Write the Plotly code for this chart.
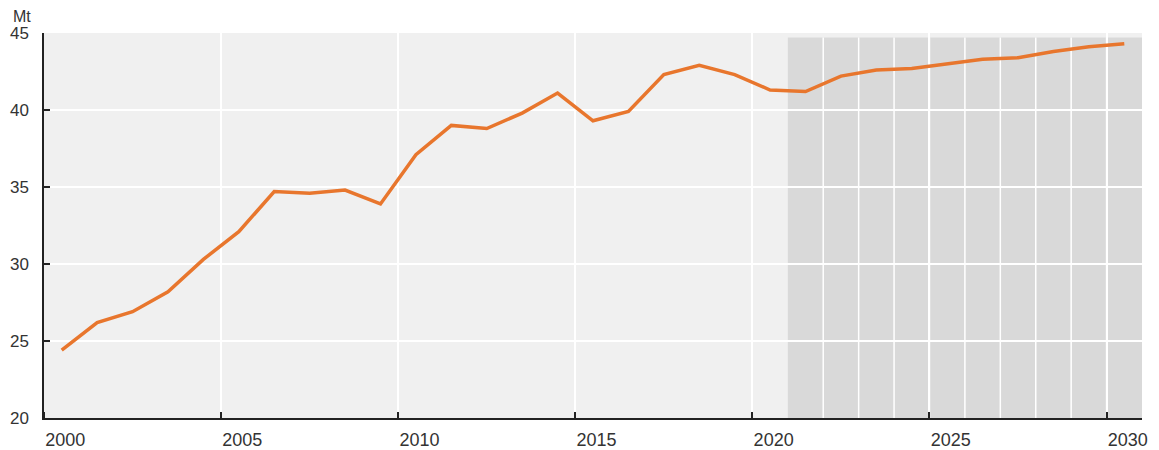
import plotly.graph_objects as go

years = list(range(2000, 2031))
values = [24.4, 26.2, 26.9, 28.2, 30.3, 32.1, 34.7, 34.6, 34.8, 33.9,
          37.1, 39.0, 38.8, 39.8, 41.1, 39.3, 39.9, 42.3, 42.9, 42.3,
          41.3, 41.2, 42.2, 42.6, 42.7, 43.0, 43.3, 43.4, 43.8, 44.1, 44.3]
tick_years = [2000, 2005, 2010, 2015, 2020, 2025, 2030]
y_ticks = [20, 25, 30, 35, 40, 45]
projection_start = 2021

font_family = "Liberation Sans, Arial, sans-serif"

fig = go.Figure()
fig.add_trace(go.Scatter(
    x=[y + 0.5 for y in years], y=values, mode="lines",
    line=dict(color="#e8762d", width=3.5), showlegend=False, hoverinfo="skip"))

shapes = [dict(type="rect", xref="x", yref="y", x0=projection_start, x1=years[-1] + 1,
               y0=20, y1=44.7, fillcolor="#d9d9d9", line=dict(width=0), layer="below")]
for yr in range(projection_start + 1, years[-1] + 1):
    shapes.append(dict(type="line", xref="x", yref="y", x0=yr, x1=yr, y0=20, y1=44.7,
                       line=dict(color="white", width=1.5), layer="below"))

# page body has an 8px default margin, so the figure is shrunk accordingly
fig.update_layout(
    width=1151, height=442,
    margin=dict(l=36, r=17, t=25, b=32, autoexpand=False),
    paper_bgcolor="white", plot_bgcolor="#f0f0f0",
    font=dict(family=font_family, size=17, color="#333333"),
    shapes=shapes,
    annotations=[dict(text="Mt", xref="paper", yref="paper", x=0, y=1.0,
                      xanchor="left", yanchor="bottom", showarrow=False,
                      xshift=-33, yshift=6,
                      font=dict(size=16, color="#333333"))],
)
fig.update_xaxes(
    range=[years[0], years[-1] + 1], automargin=False,
    tickvals=[t + 0.6 for t in tick_years], ticktext=[str(t) for t in tick_years],
    tickfont=dict(size=18),
    ticks="", showgrid=False, zeroline=False, ticklabelstandoff=5,
    showline=True, linecolor="#222222", linewidth=1.5,
    minor=dict(tickvals=tick_years, ticks="inside", ticklen=6, tickcolor="#222222",
               tickwidth=1.5, showgrid=True, gridcolor="white", gridwidth=1.5),
)
fig.update_yaxes(
    range=[20, 45], tickvals=y_ticks, automargin=False,
    ticks="inside", ticklen=6, tickcolor="#222222", tickwidth=1.5,
    ticklabelstandoff=10, tickfont=dict(size=17),
    showgrid=True, gridcolor="white", gridwidth=2, zeroline=False,
    showline=True, linecolor="#222222", linewidth=1.5,
)
fig.write_html("out.html")
